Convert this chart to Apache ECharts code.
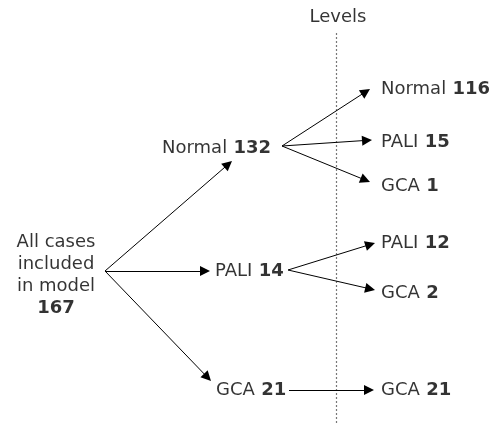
<!DOCTYPE html>
<html>
<head>
<meta charset="utf-8">
<script src="https://cdn.jsdelivr.net/npm/echarts@6/dist/echarts.min.js"></script>
<style>
  html, body { margin: 0; padding: 0; background: #fff; }
  #tree { width: 496px; height: 423px; }
</style>
</head>
<body>
<div id="tree"></div>
<script type="text/javascript">
// 节点数据
const nodeNames = ["All cases\nincluded\nin model", "Normal", "PALI", "GCA", "Normal", "PALI", "GCA", "PALI", "GCA", "GCA"];
const nodeCounts = [167, 132, 14, 21, 116, 15, 1, 12, 2, 21];
const nodeParents = [-1, 0, 0, 0, 1, 1, 1, 2, 2, 3];
const levelTitle = "Levels";

// 布局 (axis units = px of the picture)
const labelAt = [[56, 275], [162, 148], [215, 271], [216, 390], [381, 89], [381, 142], [381, 186], [381, 243], [381, 293], [381, 390]];
const inPort = [null, [232, 161], [210, 271], [211, 381], [370, 89], [372, 140], [370, 182], [375, 243], [375, 290], [374, 390]];
const outPort = [[105, 271], [282, 146], [288, 270], [289, 390]];
const levelLineX = 336;

const font = "DejaVu Sans";
const ink = "#000";
const headLen = 10;

let labelData = nodeNames.map((name, i) => {
  const isRoot = nodeParents[i] < 0;
  const text = isRoot
    ? name.split("\n").map(s => "{n|" + s + "}").join("\n") + "\n{r|" + nodeCounts[i] + "}"
    : "{n|" + name + "} {b|" + nodeCounts[i] + "}";
  return {
    value: labelAt[i],
    label: {
      formatter: text,
      position: isRoot ? "inside" : "right",
      distance: 0,
      align: isRoot ? "center" : "left",
      verticalAlign: "middle"
    }
  };
});

// 箭头的三角形以端点为中心，所以把线收短半个箭头
let edgeData = [];
nodeParents.forEach((p, i) => {
  if (p < 0) return;
  const a = outPort[p];
  const b = inPort[i];
  const dx = b[0] - a[0], dy = b[1] - a[1];
  const len = Math.sqrt(dx * dx + dy * dy);
  const k = (headLen / 2) / len;
  edgeData.push({ coords: [a, [b[0] - dx * k, b[1] - dy * k]] });
});

let chart = echarts.init(document.getElementById("tree"));
chart.setOption({
  animation: false,
  grid: { left: 0, right: 0, top: 0, bottom: 0 },
  xAxis: { type: "value", min: 0, max: 496, show: false },
  yAxis: { type: "value", min: 0, max: 423, inverse: true, show: false },
  series: [
    {
      // 分级虚线
      type: "lines",
      coordinateSystem: "cartesian2d",
      symbol: "none",
      silent: true,
      lineStyle: { color: "#777", width: 1.2, type: [2, 2], opacity: 1 },
      data: [{ coords: [[levelLineX, 33], [levelLineX, 423]] }]
    },
    {
      type: "lines",
      coordinateSystem: "cartesian2d",
      symbol: ["none", "triangle"],
      symbolSize: [5, headLen],
      lineStyle: { color: ink, width: 1, opacity: 1 },
      itemStyle: { color: ink },
      data: edgeData
    },
    {
      type: "scatter",
      symbolSize: 0,
      label: {
        show: true,
        color: ink,
        lineHeight: 22,
        rich: {
          n: { fontFamily: font, fontSize: 18, color: ink, lineHeight: 22 },
          b: { fontFamily: font, fontSize: 18, fontWeight: "bold", color: ink, lineHeight: 22, padding: [0, 0, 0, 3] },
          r: { fontFamily: font, fontSize: 18, fontWeight: "bold", color: ink, lineHeight: 22 }
        }
      },
      data: labelData
    },
    {
      type: "scatter",
      symbolSize: 0,
      label: {
        show: true,
        position: "inside",
        formatter: levelTitle,
        fontFamily: font,
        fontSize: 18,
        color: ink
      },
      data: [[levelLineX + 2, 17]]
    }
  ]
});
</script>
</body>
</html>
